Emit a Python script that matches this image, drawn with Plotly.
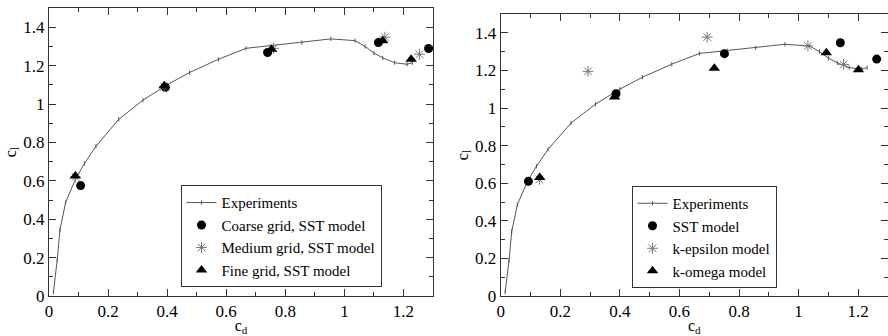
import plotly.graph_objects as go

# Experimental polar curve (shared by both panels)
exp_cd = [0.015, 0.028, 0.037, 0.056, 0.09, 0.12, 0.159, 0.236, 0.318, 0.40, 0.476, 0.574,
          0.667, 0.76, 0.856, 0.954, 1.036, 1.07, 1.10, 1.13, 1.17, 1.212, 1.23]
exp_cl = [0.02, 0.19, 0.344, 0.486, 0.61, 0.69, 0.78, 0.92, 1.02, 1.10, 1.164, 1.233,
          1.29, 1.305, 1.32, 1.339, 1.33, 1.30, 1.265, 1.24, 1.215, 1.207, 1.215]

# Left panel: grid study, SST model
coarse_cd = [0.107, 0.394, 0.74, 1.115, 1.285]
coarse_cl = [0.575, 1.087, 1.268, 1.32, 1.289]
medium_cd = [0.09, 0.39, 0.76, 1.137, 1.254]
medium_cl = [0.62, 1.09, 1.29, 1.348, 1.259]
fine_cd = [0.089, 0.39, 0.753, 1.13, 1.226]
fine_cl = [0.625, 1.095, 1.285, 1.33, 1.233]

# Right panel: turbulence models
sst_cd = [0.093, 0.387, 0.751, 1.14, 1.262]
sst_cl = [0.61, 1.076, 1.289, 1.347, 1.26]
keps_cd = [0.13, 0.293, 0.693, 1.031, 1.151]
keps_cl = [0.62, 1.195, 1.377, 1.331, 1.232]
komega_cd = [0.131, 0.382, 0.717, 1.093, 1.201]
komega_cl = [0.63, 1.058, 1.212, 1.294, 1.204]

FONT = "'Liberation Serif', 'Times New Roman', Times, serif"
fig = go.Figure()

def add_panel(xa, ya, leg, names, series):
    fig.add_trace(go.Scatter(x=exp_cd, y=exp_cl, mode="lines+markers", name="Experiments",
                             line=dict(color="#555555", width=1),
                             marker=dict(symbol="line-ns", size=3, line=dict(color="#555555", width=1)),
                             xaxis=xa, yaxis=ya, legend=leg))
    styles = [dict(symbol="circle", size=9, color="black"),
              dict(symbol="asterisk-open", size=9, color="#777777", line=dict(color="#777777", width=1)),
              dict(symbol="triangle-up", size=10, color="black")]
    for nm, (xs, ys), st in zip(names, series, styles):
        fig.add_trace(go.Scatter(x=xs, y=ys, mode="markers", name=nm, marker=st,
                                 xaxis=xa, yaxis=ya, legend=leg))

add_panel("x", "y", "legend",
          ["Coarse grid, SST model", "Medium grid, SST model", "Fine grid, SST model"],
          [(coarse_cd, coarse_cl), (medium_cd, medium_cl), (fine_cd, fine_cl)])
add_panel("x2", "y2", "legend2",
          ["SST model", "k-epsilon model", "k-omega model"],
          [(sst_cd, sst_cl), (keps_cd, keps_cl), (komega_cd, komega_cl)])

def axis(domain, rng, title, anchor, standoff, tsize=17):
    return dict(domain=domain, range=rng, anchor=anchor, dtick=0.2, tick0=0,
                ticks="inside", ticklen=7, tickcolor="#333", tickwidth=1,
                minor=dict(dtick=0.1, ticks="inside", ticklen=4, tickcolor="#333"),
                showline=True, linecolor="#333", linewidth=1, mirror="allticks",
                showgrid=False, zeroline=False, automargin=False,
                tickfont=dict(family=FONT, size=17, color="black"),
                title=dict(text=title, font=dict(family=FONT, size=tsize, color="black"), standoff=standoff))

leg_common = dict(bordercolor="#333", borderwidth=1, bgcolor="white",
                  font=dict(family=FONT, size=15, color="black"), itemwidth=30,
                  tracegroupgap=0, xanchor="center", yanchor="middle")

fig.update_layout(
    width=888, height=336, margin=dict(l=0, r=0, t=0, b=0),
    paper_bgcolor="white", plot_bgcolor="white", template="none",
    font=dict(family=FONT, color="black"),
    xaxis=axis([49/888, 433/888], [0, 1.3], "c<sub>d</sub>", "y", 7, 16),
    yaxis=axis([40/336, 328/336], [0, 1.5], "c<sub>l</sub>", "x", 2),
    xaxis2=axis([500.7/888, 888/888], [0, 1.3], "c<sub>d</sub>", "y2", 7, 16),
    yaxis2=axis([40/336, 322/336], [0, 1.5], "c<sub>l</sub>", "x2", 2),
    legend=dict(x=281/888, y=1-236.3/336, **leg_common),
    legend2=dict(x=704/888, y=1-237/336, **leg_common),
    showlegend=True,
)

fig.write_html("out.html")
